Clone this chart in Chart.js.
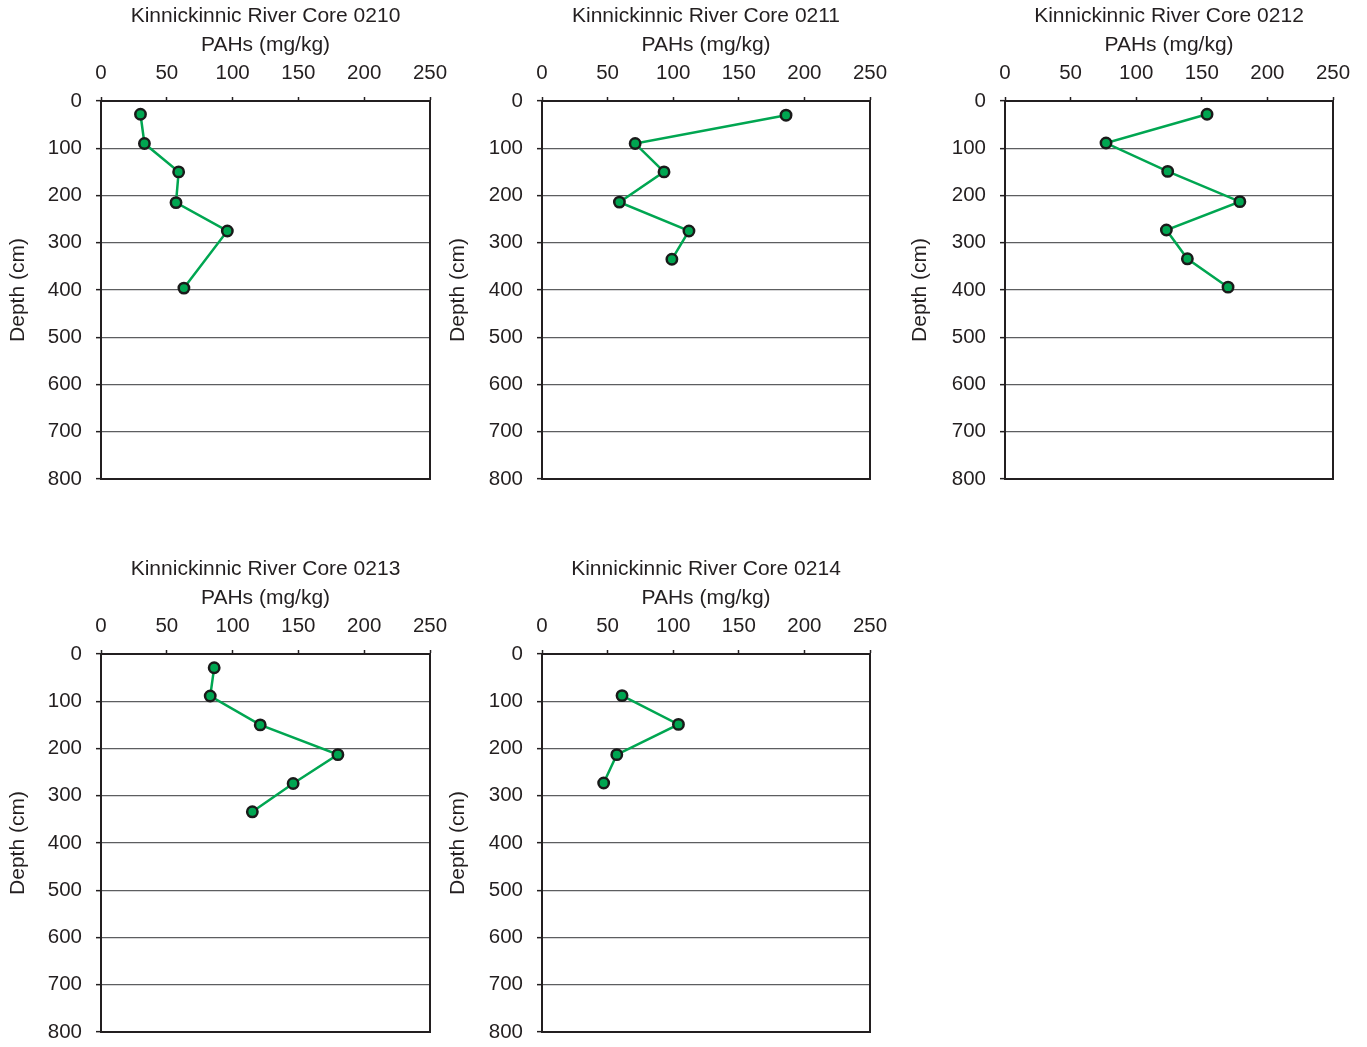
<!DOCTYPE html>
<html>
<head>
<meta charset="utf-8">
<script src="https://cdn.jsdelivr.net/npm/chart.js@4.4.0/dist/chart.umd.min.js"></script>
<style>
  html, body { margin: 0; padding: 0; background: #ffffff; }
  body { width: 1367px; height: 1047px; position: relative; overflow: hidden; }
  .cw { position: absolute; }
  canvas { display: block; }
</style>
</head>
<body>
<div class="cw" id="w0"><canvas id="c0"></canvas></div>
<div class="cw" id="w1"><canvas id="c1"></canvas></div>
<div class="cw" id="w2"><canvas id="c2"></canvas></div>
<div class="cw" id="w3"><canvas id="c3"></canvas></div>
<div class="cw" id="w4"><canvas id="c4"></canvas></div>
<script>
// ---- Data ----
const coreTitles = ["Kinnickinnic River Core 0210", "Kinnickinnic River Core 0211", "Kinnickinnic River Core 0212", "Kinnickinnic River Core 0213", "Kinnickinnic River Core 0214"];
const xAxisLabel = "PAHs (mg/kg)";
const yAxisLabel = "Depth (cm)";

const depth0210 = [28, 90, 150, 215, 275, 396];
const pah0210   = [30, 33, 59, 57, 96, 63];

const depth0211 = [30, 90, 150, 214, 275, 335];
const pah0211   = [186, 71, 93, 59, 112, 99];

const depth0212 = [28, 89, 149, 213, 273, 334, 394];
const pah0212   = [154, 77, 124, 179, 123, 139, 170];

const depth0213 = [29, 89, 150, 213, 274, 334];
const pah0213   = [86, 83, 121, 180, 146, 115];

const depth0214 = [88, 149, 213, 273];
const pah0214   = [61, 104, 57, 47];

const xTickMin = 0, xTickMax = 250, xTickStep = 50;
const yTickMin = 0, yTickMax = 800, yTickStep = 100;

// ---- Layout / style ----
const FONT = "'Liberation Sans', Arial, Helvetica, sans-serif";
const TEXT = '#231f20';
const DARK = '#231f20';
const GRID = '#5d5e60';
const GREEN = '#00a651';

const panels = [
  { x: 0,   y: 0,   yw: 101, w: 460, pah: pah0210, depth: depth0210 },
  { x: 440, y: 0,   yw: 102, w: 460, pah: pah0211, depth: depth0211 },
  { x: 902, y: 0,   yw: 103, w: 461, pah: pah0212, depth: depth0212 },
  { x: 0,   y: 553, yw: 101, w: 460, pah: pah0213, depth: depth0213 },
  { x: 440, y: 553, yw: 102, w: 460, pah: pah0214, depth: depth0214 }
];
const H = 509, XH = 101, PAD_R = 30, PAD_B = 30;

const frameLines = {
  id: 'frameLines',
  beforeDatasetsDraw(chart) {
    const a = chart.chartArea, ctx = chart.ctx;
    ctx.save();
    ctx.strokeStyle = DARK;
    ctx.lineWidth = 2;
    ctx.beginPath();
    ctx.moveTo(a.left - 1, a.bottom);
    ctx.lineTo(a.right, a.bottom);
    ctx.moveTo(a.right, a.top);
    ctx.lineTo(a.right, a.bottom + 1);
    ctx.stroke();
    ctx.restore();
  }
};

panels.forEach((p, i) => {
  const wrap = document.getElementById('w' + i);
  wrap.style.left = p.x + 'px';
  wrap.style.top = p.y + 'px';
  const cv = document.getElementById('c' + i);
  cv.width = p.w; cv.height = H;
  cv.style.width = p.w + 'px'; cv.style.height = H + 'px';

  const pts = p.pah.map((v, k) => ({ x: v, y: p.depth[k] }));

  new Chart(cv, {
    type: 'line',
    data: {
      datasets: [{
        data: pts,
        borderColor: GREEN,
        borderWidth: 2.5,
        backgroundColor: GREEN,
        pointBackgroundColor: GREEN,
        pointBorderColor: '#1a1a1a',
        pointBorderWidth: 2.5,
        pointRadius: 5.2,
        tension: 0,
        fill: false,
        clip: false
      }]
    },
    options: {
      responsive: false,
      animation: false,
      devicePixelRatio: 1,
      layout: { padding: { left: 0, top: 0, right: PAD_R, bottom: PAD_B } },
      plugins: { legend: { display: false }, tooltip: { enabled: false }, title: { display: false } },
      scales: {
        x: {
          type: 'linear',
          position: 'top',
          min: xTickMin, max: xTickMax,
          ticks: { stepSize: xTickStep, color: TEXT, font: { family: FONT, size: 20.5 }, padding: 11.7, maxRotation: 0 },
          grid: { drawOnChartArea: false, drawTicks: true, tickLength: 4, tickColor: DARK, tickWidth: 1.5 },
          border: { display: true, color: DARK, width: 2 },
          title: {
            display: true,
            text: [coreTitles[i], xAxisLabel],
            color: TEXT,
            font: { family: FONT, size: 21, lineHeight: 1.38 },
            padding: { top: 2, bottom: 0 }
          },
          afterFit: (s) => { s.height = XH; }
        },
        y: {
          type: 'linear',
          reverse: true,
          min: yTickMin, max: yTickMax,
          ticks: { stepSize: yTickStep, color: TEXT, font: { family: FONT, size: 20.5 }, padding: 14 },
          grid: { color: GRID, lineWidth: 1.3, tickLength: 5, tickColor: DARK, tickWidth: 1.5 },
          border: { display: true, color: DARK, width: 2 },
          title: {
            display: true,
            text: yAxisLabel,
            color: TEXT,
            font: { family: FONT, size: 21 },
            padding: { top: 5.8, bottom: 0 }
          },
          afterFit: (s) => { s.width = p.yw; }
        }
      }
    },
    plugins: [frameLines]
  });
});
</script>
</body>
</html>
